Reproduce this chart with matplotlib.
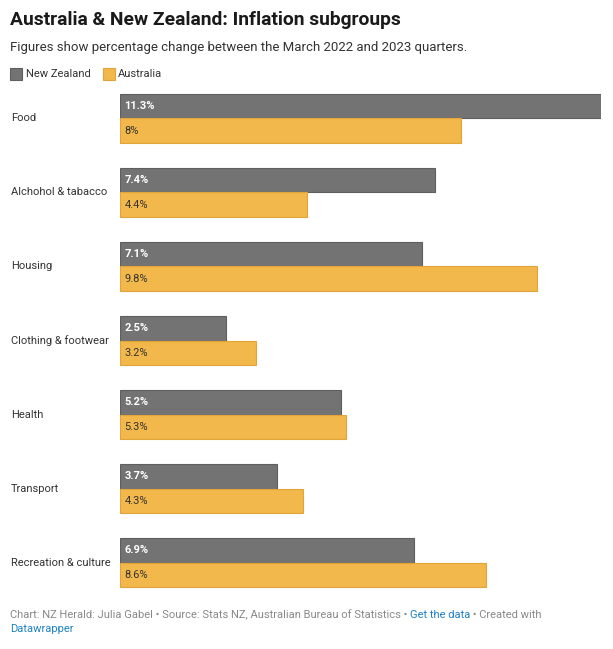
import matplotlib
matplotlib.use("Agg")
import matplotlib.pyplot as plt
import matplotlib.transforms as mtrans
from matplotlib.patches import Rectangle

categories = ["Food", "Alchohol & tabacco", "Housing", "Clothing & footwear",
              "Health", "Transport", "Recreation & culture"]
nz_values = [11.3, 7.4, 7.1, 2.5, 5.2, 3.7, 6.9]
au_values = [8, 4.4, 9.8, 3.2, 5.3, 4.3, 8.6]
nz_labels = ["11.3%", "7.4%", "7.1%", "2.5%", "5.2%", "3.7%", "6.9%"]
au_labels = ["8%", "4.4%", "9.8%", "3.2%", "5.3%", "4.3%", "8.6%"]

plt.rcParams['font.family'] = ['Roboto', 'DejaVu Sans']

W, H = 613, 649
fig = plt.figure(figsize=(W / 100, H / 100), dpi=100)

def fx(px):
    return px / W

def fy(py):
    return 1 - py / H

# plot area in pixels: x 120..601, y 90..595
ax = fig.add_axes([fx(120), fy(595), fx(601) - fx(120), fy(90) - fy(595)])
ax.set_xlim(0, 11.3)
ax.set_ylim(6.439, -0.385)
ax.axis('off')

nz_col = '#737373'
au_col = '#f2b84b'
h = 0.331
fs = 8.0
for i in range(len(categories)):
    ax.barh(i - h / 2, nz_values[i], height=h, color=nz_col, edgecolor='#5f5f5f', linewidth=0.8)
    ax.barh(i + h / 2, au_values[i], height=h, color=au_col, edgecolor='#e2a43a', linewidth=0.8)
    ax.text(0.1, i - h / 2, nz_labels[i], color='white', fontweight='bold',
            fontsize=fs, va='center', ha='left')
    ax.text(0.1, i + h / 2, au_labels[i], color='#333333',
            fontsize=fs, va='center', ha='left')

# category labels (figure x, data y)
trans = mtrans.blended_transform_factory(fig.transFigure, ax.transData)
for i, c in enumerate(categories):
    fig.text(fx(11), i, c, fontsize=fs, color='#333333', va='center', ha='left', transform=trans)

# title, subtitle
fig.text(fx(10), fy(20), "Australia & New Zealand: Inflation subgroups", fontsize=13.9,
         fontweight='bold', color='#1a1a1a', va='center', ha='left')
fig.text(fx(10), fy(48), "Figures show percentage change between the March 2022 and 2023 quarters.",
         fontsize=9.5, color='#333333', va='center', ha='left')

# legend
fig.patches.append(Rectangle((fx(10), fy(80)), fx(12), fy(68) - fy(80), transform=fig.transFigure,
                             facecolor=nz_col, edgecolor='#5f5f5f', linewidth=0.8))
fig.text(fx(26), fy(74), "New Zealand", fontsize=fs, color='#333333', va='center', ha='left')
fig.patches.append(Rectangle((fx(103), fy(80)), fx(12), fy(68) - fy(80), transform=fig.transFigure,
                             facecolor=au_col, edgecolor='#e2a43a', linewidth=0.8))
fig.text(fx(118), fy(74), "Australia", fontsize=fs, color='#333333', va='center', ha='left')

# footer with mixed colours
renderer = fig.canvas.get_renderer()
pieces = [("Chart: NZ Herald: Julia Gabel \u2022 Source: Stats NZ, Australian Bureau of Statistics \u2022 ", '#888888'),
          ("Get the data", '#1d81c4'),
          (" \u2022 Created with", '#888888')]
x = fx(10)
for s, col in pieces:
    t = fig.text(x, fy(615), s, fontsize=fs, color=col, va='center', ha='left')
    bb = t.get_window_extent(renderer=renderer)
    x += bb.width / W
fig.text(fx(10), fy(629), "Datawrapper", fontsize=fs, color='#1d81c4', va='center', ha='left')

fig.savefig("out.png", dpi=100, facecolor='white')
